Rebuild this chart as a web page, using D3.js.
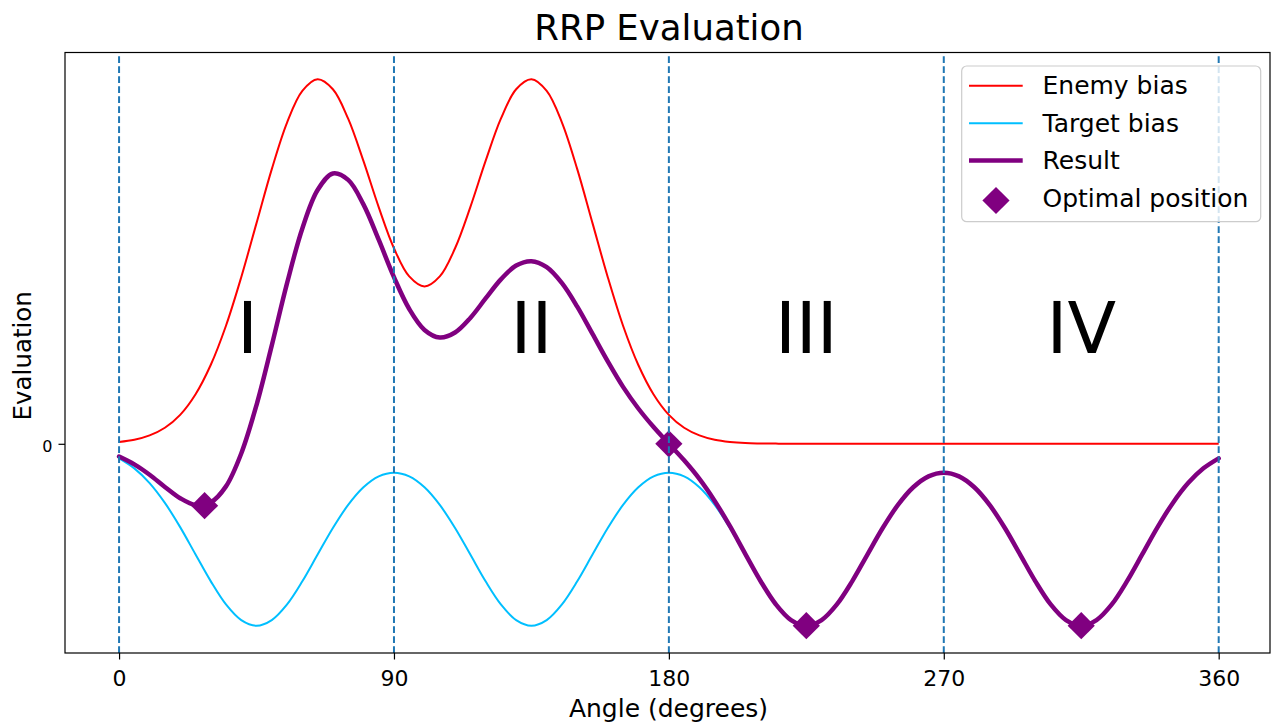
<!DOCTYPE html>
<html>
<head>
<meta charset="utf-8">
<script src="https://cdn.jsdelivr.net/npm/d3@7"></script>
<style>
  html, body { margin: 0; padding: 0; background: #fff; }
  svg { display: block; font-family: "DejaVu Sans", sans-serif; }
</style>
</head>
<body>
<svg id="chart" width="1273" height="722"></svg>
<script>
// ---------- data ----------
const angles = [0,5,10,15,20,25,30,35,40,45,50,55,60,65,70,75,80,85,90,
  95,100,105,110,115,120,125,130,135,140,145,150,155,160,165,170,175,180,
  185,190,195,200,205,210,215,220,225,230,235,240,245,250,255,260,265,270,
  275,280,285,290,295,300,305,310,315,320,325,330,335,340,345,350,355,360];

const enemyBias = [0.010,0.022,0.046,0.088,0.159,0.271,0.433,0.649,0.916,1.213,1.510,1.766,1.940,2.004,1.949,1.787,1.555,1.301,1.075,
  0.920,0.865,0.920,1.075,1.301,1.555,1.787,1.949,2.004,1.940,1.766,1.510,1.213,0.916,0.649,0.433,0.271,0.159,
  0.088,0.046,0.022,0.010,0.004,0.002,0.001,0,0,0,0,0,0,0,0,0,0,0,
  0,0,0,0,0,0,0,0,0,0,0,0,0,0,0,0,0,0];

const targetBias = [-0.080,-0.135,-0.216,-0.325,-0.458,-0.607,-0.755,-0.883,-0.969,-1.000,-0.969,-0.883,-0.756,-0.609,-0.463,-0.336,-0.239,-0.179,-0.159,
  -0.179,-0.239,-0.336,-0.463,-0.609,-0.756,-0.883,-0.969,-1.000,-0.969,-0.883,-0.756,-0.609,-0.463,-0.336,-0.239,-0.179,-0.159,
  -0.179,-0.239,-0.336,-0.463,-0.609,-0.756,-0.883,-0.969,-1.000,-0.969,-0.883,-0.756,-0.609,-0.463,-0.336,-0.239,-0.179,-0.159,
  -0.179,-0.239,-0.336,-0.463,-0.609,-0.756,-0.883,-0.969,-1.000,-0.969,-0.883,-0.755,-0.607,-0.458,-0.325,-0.216,-0.135,-0.080];

const result = [-0.070,-0.113,-0.170,-0.237,-0.299,-0.336,-0.322,-0.234,-0.053,0.213,0.541,0.883,1.184,1.395,1.486,1.451,1.316,1.122,0.916,
  0.741,0.626,0.584,0.612,0.692,0.799,0.904,0.980,1.004,0.971,0.883,0.754,0.604,0.453,0.313,0.194,0.092,0.000,
  -0.091,-0.193,-0.314,-0.453,-0.605,-0.754,-0.882,-0.969,-1.000,-0.969,-0.883,-0.756,-0.609,-0.463,-0.336,-0.239,-0.179,-0.159,
  -0.179,-0.239,-0.336,-0.463,-0.609,-0.756,-0.883,-0.969,-1.000,-0.969,-0.883,-0.755,-0.607,-0.458,-0.325,-0.216,-0.135,-0.080];

const optimalAngles = [28, 180, 225, 315];
const optimalValues = [-0.34, 0, -1.0, -1.0];

const sectorLines = [0, 90, 180, 270, 360];
const regionLabels = ["I", "II", "III", "IV"];
const regionAngles = [42, 135, 225, 315];
const regionValue = 0.5;

const xTicks = [0, 90, 180, 270, 360];
const yTicks = [0];

const legendLabels = ["Enemy bias", "Target bias", "Result", "Optimal position"];

// ---------- layout ----------
const svg = d3.select("#chart");
const L = 65, R = 1270, T = 52.5, B = 653;

const x = d3.scaleLinear().domain([-17.7, 376.8]).range([L, R]);
const y = d3.scaleLinear().domain([-1.15, 2.151]).range([B, T]);

const COL_ENEMY = "#ff0000", COL_TARGET = "#00bfff", COL_RESULT = "#800080", COL_VLINE = "#1f77b4";

const mk = vals => angles.map((a, i) => [a, vals[i]]);
const line = d3.line().x(d => x(d[0])).y(d => y(d[1])).curve(d3.curveCatmullRom.alpha(0.5));

const plot = svg.append("g");

plot.append("path").datum(mk(enemyBias)).attr("d", line)
  .attr("fill", "none").attr("stroke", COL_ENEMY).attr("stroke-width", 2);
plot.append("path").datum(mk(targetBias)).attr("d", line)
  .attr("fill", "none").attr("stroke", COL_TARGET).attr("stroke-width", 2);
plot.append("path").datum(mk(result)).attr("d", line)
  .attr("fill", "none").attr("stroke", COL_RESULT).attr("stroke-width", 4.5)
  .attr("stroke-linejoin", "round").attr("stroke-linecap", "round");

const diamond = d3.symbol().type(d3.symbolSquare).size(370);
plot.selectAll("path.opt").data(optimalAngles.map((a, i) => [a, optimalValues[i]]))
  .enter().append("path").attr("class", "opt")
  .attr("d", diamond)
  .attr("transform", d => `translate(${x(d[0])},${y(d[1])}) rotate(45)`)
  .attr("fill", COL_RESULT);

// vertical dashed sector lines (drawn from bottom to top)
plot.selectAll("line.vl").data(sectorLines).enter().append("line")
  .attr("class", "vl")
  .attr("x1", d => x(d)).attr("x2", d => x(d))
  .attr("y1", B).attr("y2", T)
  .attr("stroke", COL_VLINE).attr("stroke-width", 2)
  .attr("stroke-dasharray", "6.8,3.2");

// region numerals
plot.selectAll("text.reg").data(regionLabels).enter().append("text")
  .attr("class", "reg")
  .attr("x", (d, i) => x(regionAngles[i]))
  .attr("y", y(regionValue))
  .attr("text-anchor", "middle")
  .attr("font-size", 71)
  .attr("fill", "#000")
  .text(d => d);

// ---------- axes ----------
const xAxis = svg.append("g").attr("transform", `translate(0,${B})`)
  .call(d3.axisBottom(x).tickValues(xTicks).tickFormat(d3.format("d")).tickSize(6.5).tickSizeOuter(0));
xAxis.select(".domain").remove();
xAxis.selectAll(".tick line").attr("stroke", "#000").attr("stroke-width", 1.2);
xAxis.selectAll(".tick text").attr("dy", null).attr("y", 32.5)
  .attr("font-size", 22).attr("font-family", "DejaVu Sans").attr("fill", "#000");

const yAxis = svg.append("g").attr("transform", `translate(${L},0)`)
  .call(d3.axisLeft(y).tickValues(yTicks).tickFormat(d3.format("d")).tickSize(6.5).tickSizeOuter(0));
yAxis.select(".domain").remove();
yAxis.selectAll(".tick line").attr("stroke", "#000").attr("stroke-width", 1.2);
yAxis.selectAll(".tick text").attr("dy", null).attr("x", -12.5).attr("y", 7.5)
  .attr("font-size", 16).attr("font-family", "DejaVu Sans").attr("fill", "#000");

// spines
svg.append("rect").attr("x", L).attr("y", T).attr("width", R - L).attr("height", B - T)
  .attr("fill", "none").attr("stroke", "#000").attr("stroke-width", 1.2);

// labels
svg.append("text").attr("x", 669).attr("y", 40).attr("text-anchor", "middle")
  .attr("font-size", 35.5).attr("fill", "#000").text("RRP Evaluation");
svg.append("text").attr("x", (L + R) / 2 + 1).attr("y", 716.5).attr("text-anchor", "middle")
  .attr("font-size", 25).attr("fill", "#000").text("Angle (degrees)");
svg.append("text").attr("transform", `translate(30.7,${(T + B) / 2 + 3}) rotate(-90)`)
  .attr("text-anchor", "middle").attr("font-size", 24.5).attr("fill", "#000").text("Evaluation");

// ---------- legend ----------
const lg = svg.append("g");
lg.append("rect").attr("x", 961.7).attr("y", 66).attr("width", 299).attr("height", 155.7)
  .attr("rx", 5).attr("ry", 5)
  .attr("fill", "#fff").attr("fill-opacity", 0.8)
  .attr("stroke", "#cccccc").attr("stroke-width", 1.2);

const legendStyles = [
  { type: "line", color: COL_ENEMY, width: 2 },
  { type: "line", color: COL_TARGET, width: 2 },
  { type: "line", color: COL_RESULT, width: 4.5 },
  { type: "marker", color: COL_RESULT }
];
legendLabels.forEach((lab, i) => {
  const base = 94.3 + i * 37.4;
  const st = legendStyles[i];
  if (st.type === "line") {
    lg.append("line").attr("x1", 969).attr("x2", 1022.7)
      .attr("y1", base - 8.5).attr("y2", base - 8.5)
      .attr("stroke", st.color).attr("stroke-width", st.width);
  } else {
    lg.append("path").attr("d", diamond)
      .attr("transform", `translate(996,${base - 6}) rotate(45)`)
      .attr("fill", st.color);
  }
  lg.append("text").attr("x", 1042.5).attr("y", base)
    .attr("font-size", 25).attr("fill", "#000").text(lab);
});
</script>
</body>
</html>
